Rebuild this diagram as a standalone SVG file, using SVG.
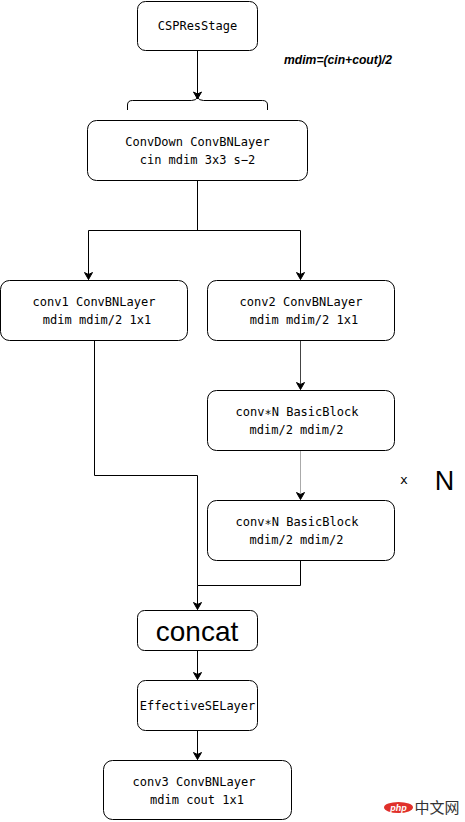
<svg xmlns="http://www.w3.org/2000/svg" width="465" height="822" viewBox="0 0 465 822">
<defs>
<marker id="arr" markerWidth="10" markerHeight="10" refX="8" refY="5" orient="auto" markerUnits="userSpaceOnUse">
<path d="M1,1 L8,5 L1,9 L3,5 Z" fill="#000" stroke="#000" stroke-width="1"/>
</marker>
</defs>
<style>
.box{fill:#fff;stroke:#000;stroke-width:1}
.t{font-family:"DejaVu Sans Mono",monospace;font-size:12px;fill:#000;text-anchor:middle;dominant-baseline:central}
.c{fill:none;stroke:#000;stroke-width:1}
</style>
<rect width="465" height="822" fill="#fff"/>
<g id="connectors">
<path class="c" d="M197.5,50.5 V99" marker-end="url(#arr)"/>
<path class="c" d="M127.5,110 V105 Q127.5,100.5 132.5,100.5 H191.5 Q196.5,100.5 197.5,97 Q198.5,100.5 203.5,100.5 H262.5 Q267.5,100.5 267.5,105 V110"/>
<path class="c" d="M197.5,180.5 V230.5 M88.5,230.5 H300.5"/>
<path class="c" d="M88.5,230.5 V279.5" marker-end="url(#arr)"/>
<path class="c" d="M300.5,230.5 V279.5" marker-end="url(#arr)"/>
<path class="c" d="M300.5,340.5 V389.5" style="stroke:#444" marker-end="url(#arr)"/>
<path class="c" d="M300.5,450.5 V499.5" style="stroke:#aaa" marker-end="url(#arr)"/>
<path class="c" d="M94.5,340.5 V475.5 H197.5 V585.5"/>
<path class="c" d="M300.5,560.5 V585.5 H197.5 V609.5" marker-end="url(#arr)"/>
<path class="c" d="M197.5,650.5 V679.5" marker-end="url(#arr)"/>
<path class="c" d="M197.5,730.5 V759.5" marker-end="url(#arr)"/>
</g>
<g id="cspresstage">
<rect class="box" x="137.5" y="1.5" width="120" height="49" rx="8"/>
<text class="t" x="197.5" y="26">CSPResStage</text>
</g>
<g id="note">
<text x="284" y="60" font-family="Liberation Sans, Arial, sans-serif" font-size="12" font-weight="bold" font-style="italic" dominant-baseline="central" textLength="108" lengthAdjust="spacingAndGlyphs">mdim=(cin+cout)/2</text>
</g>
<g id="convdown">
<rect class="box" x="87.5" y="120.5" width="220" height="60" rx="9"/>
<text class="t" x="197.5" y="142">ConvDown ConvBNLayer</text>
<text class="t" x="197.5" y="160">cin mdim 3x3 s−2</text>
</g>
<g id="conv1">
<rect class="box" x="0.5" y="280.5" width="187" height="60" rx="9"/>
<text class="t" x="94" y="302">conv1 ConvBNLayer</text>
<text class="t" x="97" y="320">mdim mdim/2 1x1</text>
</g>
<g id="conv2">
<rect class="box" x="207.5" y="280.5" width="187" height="60" rx="9"/>
<text class="t" x="301" y="302">conv2 ConvBNLayer</text>
<text class="t" x="304" y="320">mdim mdim/2 1x1</text>
</g>
<g id="basicblock1">
<rect class="box" x="207.5" y="390.5" width="187" height="60" rx="9"/>
<text class="t" x="297" y="412">conv∗N BasicBlock</text>
<text class="t" x="296.5" y="430">mdim/2 mdim/2</text>
</g>
<g id="basicblock2">
<rect class="box" x="207.5" y="500.5" width="187" height="60" rx="9"/>
<text class="t" x="297" y="522">conv∗N BasicBlock</text>
<text class="t" x="296.5" y="540">mdim/2 mdim/2</text>
</g>
<g id="repeat">
<text x="404" y="479" font-family="DejaVu Sans Mono, monospace" font-size="13" text-anchor="middle" dominant-baseline="central">x</text>
<text x="444.5" y="481" font-family="Liberation Sans, Arial, sans-serif" font-size="27" text-anchor="middle" dominant-baseline="central">N</text>
</g>
<g id="concat">
<rect class="box" x="137.5" y="610.5" width="120" height="40" rx="7"/>
<text x="197" y="631" font-family="Liberation Sans, Arial, sans-serif" font-size="28" text-anchor="middle" dominant-baseline="central">concat</text>
</g>
<g id="effectivese">
<rect class="box" x="137.5" y="680.5" width="120" height="50" rx="8"/>
<text class="t" x="197.5" y="706">EffectiveSELayer</text>
</g>
<g id="conv3">
<rect class="box" x="103.5" y="760.5" width="188" height="59" rx="9"/>
<text class="t" x="194" y="782">conv3 ConvBNLayer</text>
<text class="t" x="197" y="800">mdim cout 1x1</text>
</g>
<g id="watermark">
<ellipse cx="398.5" cy="807.5" rx="14.5" ry="5.5" fill="#e0302a"/>
<text x="398.5" y="807.5" font-family="Liberation Sans, Arial, sans-serif" font-size="9" font-weight="bold" font-style="italic" fill="#fff" text-anchor="middle" dominant-baseline="central">php</text>
<text x="437" y="807.5" font-family="Liberation Sans, 'Noto Sans CJK SC', sans-serif" font-size="15" fill="#333" text-anchor="middle" dominant-baseline="central">中文网</text>
</g>
</svg>
